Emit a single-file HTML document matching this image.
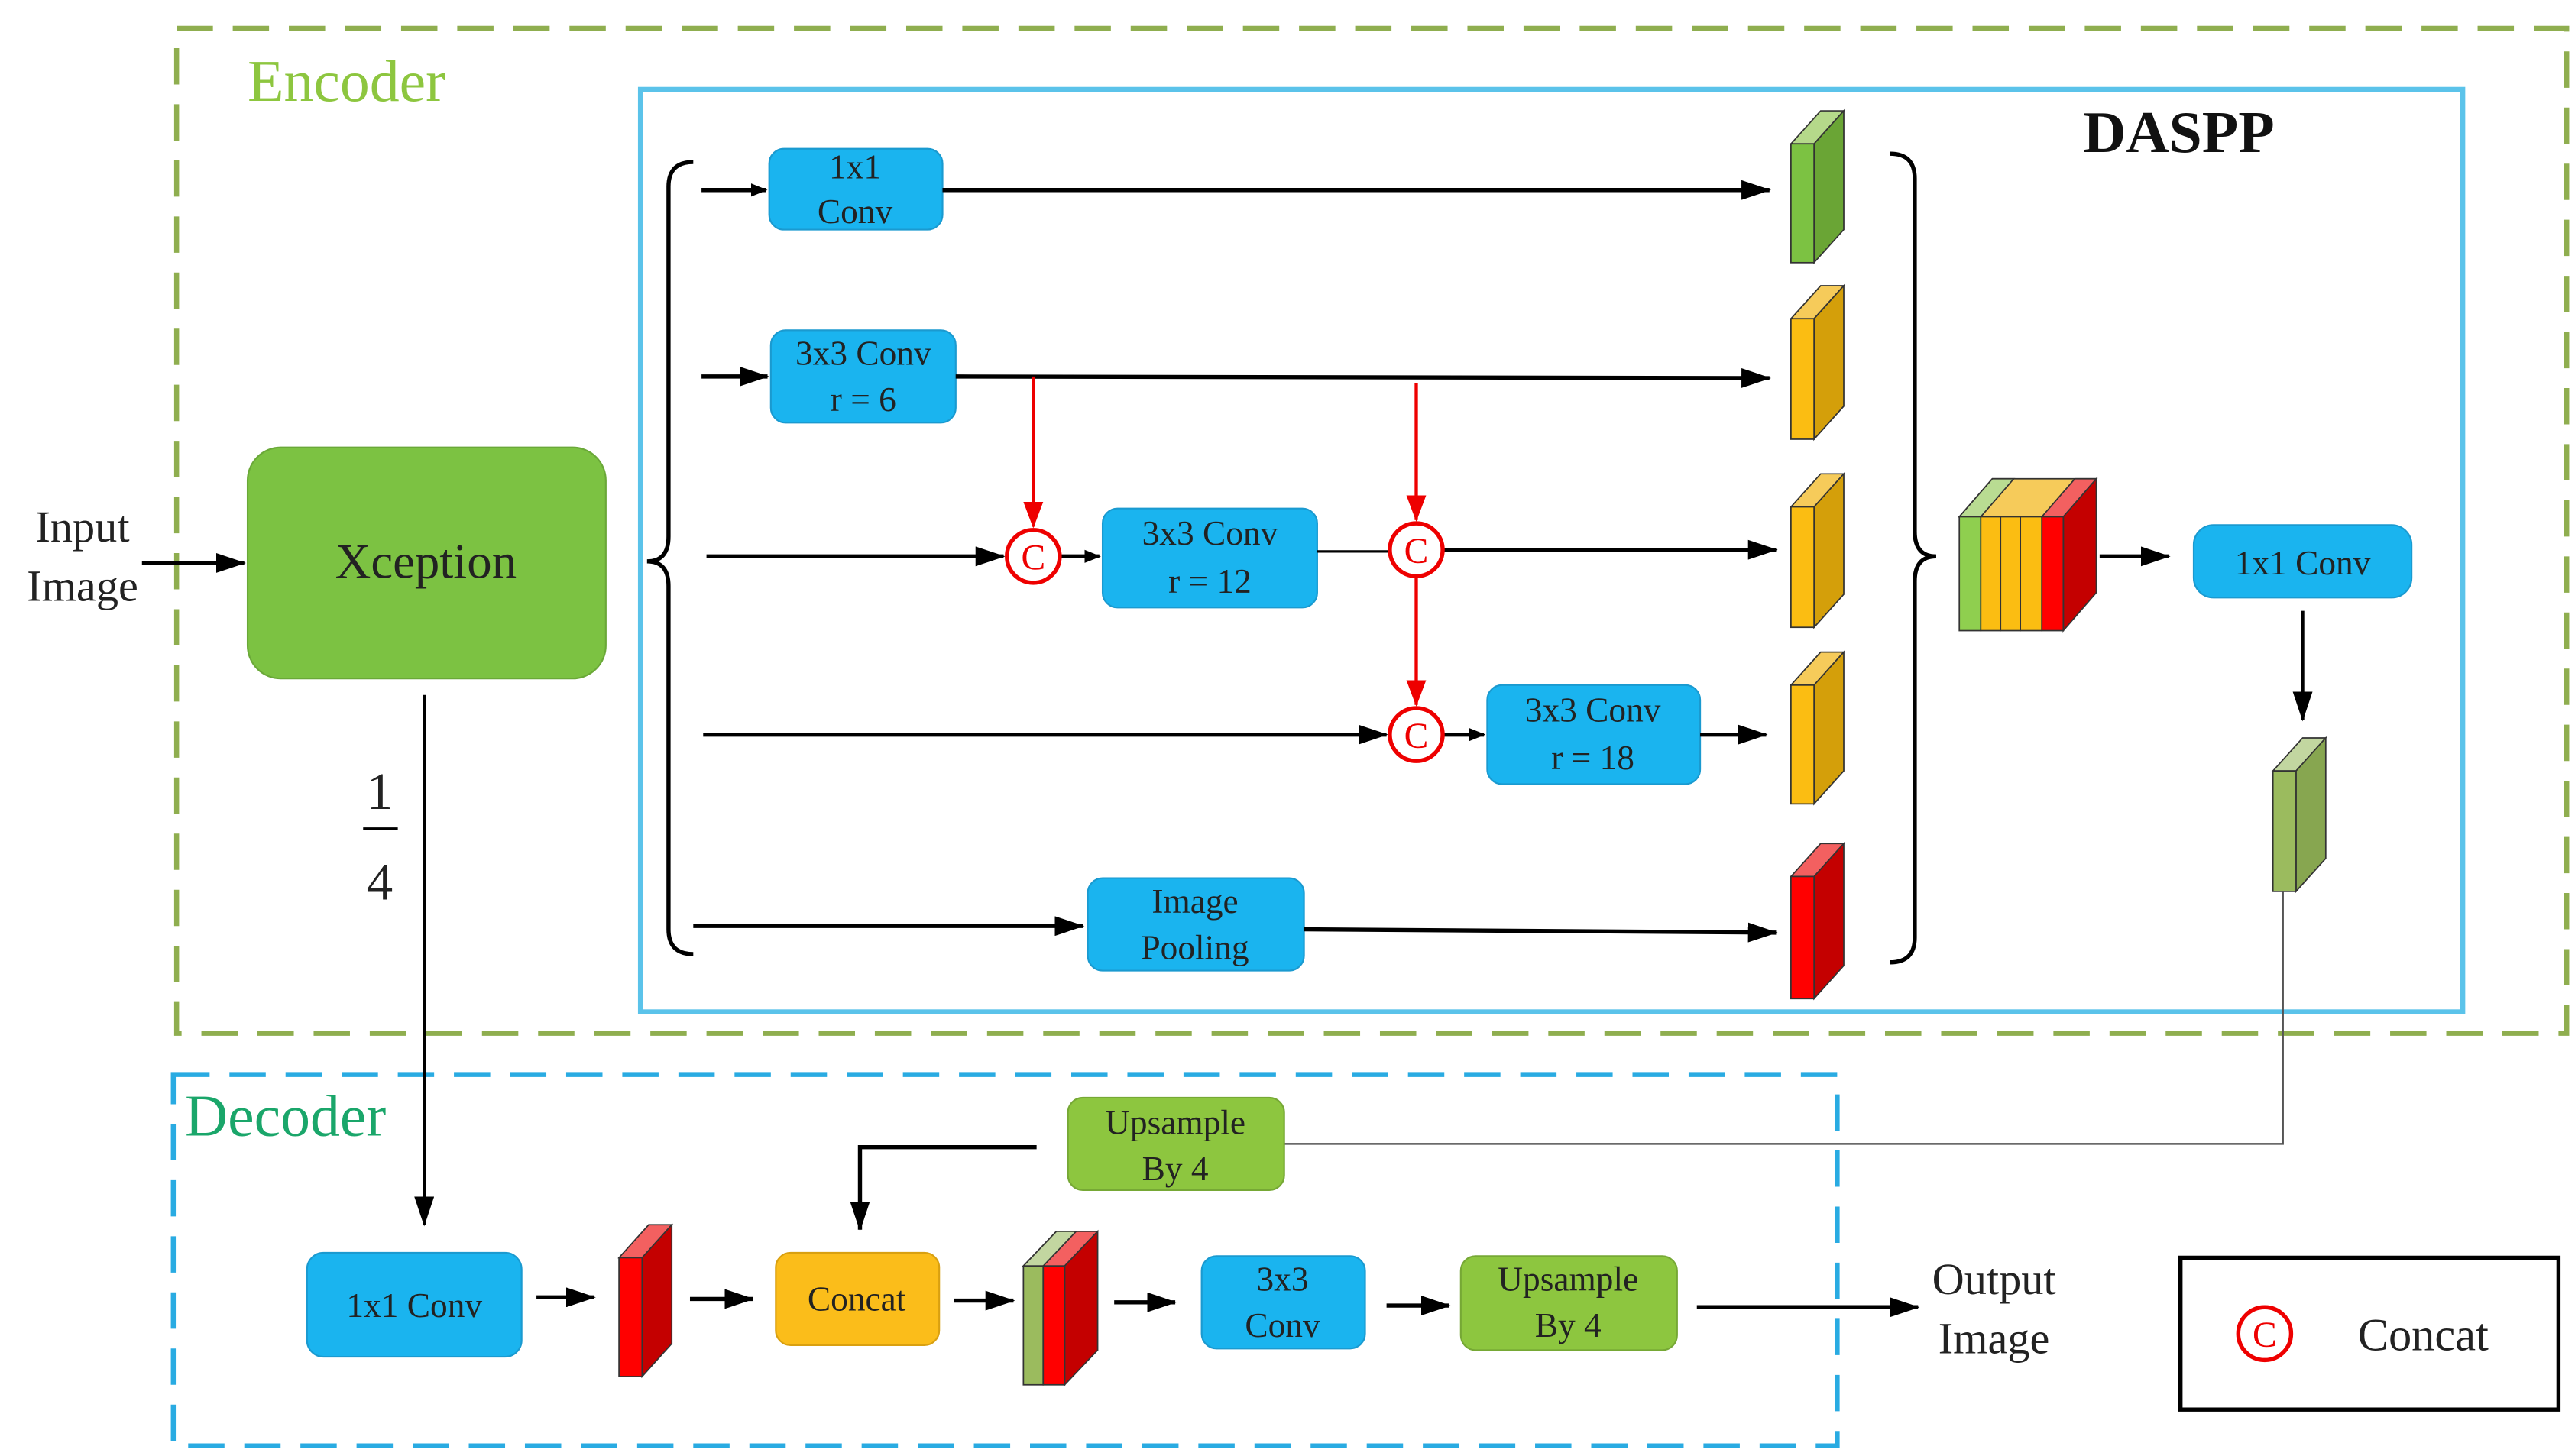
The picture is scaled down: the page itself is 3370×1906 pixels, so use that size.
<!DOCTYPE html>
<html><head><meta charset="utf-8"><style>
html,body{margin:0;padding:0;background:#fff}
svg{display:block}
text{font-family:"Liberation Serif",serif;fill:#222}
</style></head><body>
<svg width="3370" height="1906" viewBox="0 0 1560 882" xmlns="http://www.w3.org/2000/svg">
<defs>
<marker id="a" markerWidth="10" markerHeight="8" refX="9" refY="4" orient="auto" markerUnits="userSpaceOnUse" viewBox="0 0 10 8"><path d="M0,0 L10,4 L0,8 Z" fill="#000"/></marker>
<marker id="b" markerWidth="18" markerHeight="12" refX="17" refY="6" orient="auto" markerUnits="userSpaceOnUse" viewBox="0 0 18 12"><path d="M0,0 L18,6 L0,12 Z" fill="#000"/></marker>
<marker id="r" markerWidth="16" markerHeight="12" refX="15" refY="6" orient="auto" markerUnits="userSpaceOnUse" viewBox="0 0 16 12"><path d="M0,0 L16,6 L0,12 Z" fill="#e00"/></marker>
</defs>

<rect x="107" y="17" width="1448" height="609" fill="none" stroke="#8fae4f" stroke-width="3" stroke-dasharray="22,12"/>
<text x="150" y="61" font-size="36" style="fill:#8dc63f">Encoder</text>
<rect x="388" y="54" width="1104" height="559" fill="none" stroke="#5bc3ea" stroke-width="3"/>
<text x="1262" y="92" font-size="36" font-weight="bold" style="fill:#111">DASPP</text>
<rect x="105" y="651" width="1008" height="225" fill="none" stroke="#29abe2" stroke-width="3" stroke-dasharray="22,12"/>
<text x="112" y="688" font-size="36" style="fill:#1aa66a">Decoder</text>

<text x="50" y="328" font-size="27" text-anchor="middle">Input</text>
<text x="50" y="364" font-size="27" text-anchor="middle">Image</text>
<line x1="86" y1="341" x2="148" y2="341" stroke="#000" stroke-width="2.5" marker-end="url(#b)"/>
<rect x="150" y="271" width="217" height="140" rx="20" fill="#7cc242" stroke="#6aa838"/>
<text x="258" y="350" font-size="30" text-anchor="middle">Xception</text>

<line x1="257" y1="421" x2="257" y2="742" stroke="#000" stroke-width="2" marker-end="url(#b)"/>
<text x="230" y="490" font-size="32" text-anchor="middle">1</text>
<line x1="220" y1="502" x2="241" y2="502" stroke="#000" stroke-width="1.5"/>
<text x="230" y="545" font-size="32" text-anchor="middle">4</text>

<path d="M420,98 Q405,98 405,113 L405,325 Q405,340 392,340 Q405,340 405,355 L405,563 Q405,578 420,578" fill="none" stroke="#000" stroke-width="2.5"/>
<path d="M1145,93 Q1160,93 1160,108 L1160,322 Q1160,337 1173,337 Q1160,337 1160,352 L1160,568 Q1160,583 1145,583" fill="none" stroke="#000" stroke-width="2.5"/>

<g fill="#1ab4ef" stroke="#1a9ad0" stroke-width="1">
<rect x="466" y="90" width="105" height="49" rx="9"/>
<rect x="467" y="200" width="112" height="56" rx="9"/>
<rect x="668" y="308" width="130" height="60" rx="9"/>
<rect x="901" y="415" width="129" height="60" rx="9"/>
<rect x="659" y="532" width="131" height="56" rx="9"/>
<rect x="1329" y="318" width="132" height="44" rx="12"/>
<rect x="186" y="759" width="130" height="63" rx="10"/>
<rect x="728" y="761" width="99" height="56" rx="9"/>
</g>
<g font-size="21" text-anchor="middle">
<text x="518" y="108">1x1</text><text x="518" y="135">Conv</text>
<text x="523" y="221">3x3 Conv</text><text x="523" y="249">r = 6</text>
<text x="733" y="330">3x3 Conv</text><text x="733" y="359">r = 12</text>
<text x="965" y="437">3x3 Conv</text><text x="965" y="466">r = 18</text>
<text x="724" y="553">Image</text><text x="724" y="581">Pooling</text>
<text x="1395" y="348">1x1 Conv</text>
<text x="251" y="798">1x1 Conv</text>
<text x="777" y="782">3x3</text><text x="777" y="810">Conv</text>
</g>

<g stroke="#000" stroke-width="2.5" fill="none">
<line x1="425" y1="115" x2="464" y2="115" marker-end="url(#a)"/>
<line x1="571" y1="115" x2="1072" y2="115" marker-end="url(#b)"/>
<line x1="425" y1="228" x2="465" y2="228" marker-end="url(#b)"/>
<line x1="579" y1="228" x2="1072" y2="229" marker-end="url(#b)"/>
<line x1="428" y1="337" x2="608" y2="337" marker-end="url(#b)"/>
<line x1="642" y1="337" x2="666" y2="337" marker-end="url(#a)"/>
<line x1="798" y1="334" x2="842" y2="334" stroke-width="1.5"/>
<line x1="874" y1="333" x2="1076" y2="333" marker-end="url(#b)"/>
<line x1="426" y1="445" x2="840" y2="445" marker-end="url(#b)"/>
<line x1="874" y1="445" x2="899" y2="445" marker-end="url(#a)"/>
<line x1="1030" y1="445" x2="1070" y2="445" marker-end="url(#b)"/>
<line x1="420" y1="561" x2="656" y2="561" marker-end="url(#b)"/>
<line x1="790" y1="563" x2="1076" y2="565" marker-end="url(#b)"/>
<line x1="1272" y1="337" x2="1314" y2="337" marker-end="url(#b)"/>
<line x1="1395" y1="370" x2="1395" y2="436" stroke-width="2" marker-end="url(#b)"/>
</g>
<g stroke="#e00" stroke-width="2" fill="none">
<line x1="626" y1="228" x2="626" y2="319" marker-end="url(#r)"/>
<line x1="858" y1="232" x2="858" y2="315" marker-end="url(#r)"/>
<line x1="858" y1="350" x2="858" y2="427" marker-end="url(#r)"/>
<circle cx="626" cy="337" r="16" stroke-width="2.5"/>
<circle cx="858" cy="333" r="16" stroke-width="2.5"/>
<circle cx="858" cy="445" r="16" stroke-width="2.5"/>
<circle cx="1372" cy="808" r="16" stroke-width="2.5"/>
</g>
<g font-size="22" text-anchor="middle">
<text x="626" y="345" style="fill:#e00">C</text>
<text x="858" y="341" style="fill:#e00">C</text>
<text x="858" y="453" style="fill:#e00">C</text>
<text x="1372" y="816" style="fill:#e00">C</text>
</g>

<g stroke="#333" stroke-width="0.8">
<polygon points="1085,87 1103,67 1117,67 1099,87" fill="#b5d98a"/><polygon points="1099,87 1117,67 1117,139 1099,159" fill="#6aa535"/><rect x="1085" y="87" width="14" height="72" fill="#7cc242"/>
<polygon points="1085,193 1103,173 1117,173 1099,193" fill="#f6cb5a"/><polygon points="1099,193 1117,173 1117,246 1099,266" fill="#d49f0a"/><rect x="1085" y="193" width="14" height="73" fill="#fbbd12"/>
<polygon points="1085,307 1103,287 1117,287 1099,307" fill="#f6cb5a"/><polygon points="1099,307 1117,287 1117,360 1099,380" fill="#d49f0a"/><rect x="1085" y="307" width="14" height="73" fill="#fbbd12"/>
<polygon points="1085,415 1103,395 1117,395 1099,415" fill="#f6cb5a"/><polygon points="1099,415 1117,395 1117,467 1099,487" fill="#d49f0a"/><rect x="1085" y="415" width="14" height="72" fill="#fbbd12"/>
<polygon points="1085,531 1103,511 1117,511 1099,531" fill="#f36060"/><polygon points="1099,531 1117,511 1117,585 1099,605" fill="#c40000"/><rect x="1085" y="531" width="14" height="74" fill="#f00"/>
<polygon points="1377,467 1395,447 1409,447 1391,467" fill="#c2d6a0"/><polygon points="1391,467 1409,447 1409,520 1391,540" fill="#87a650"/><rect x="1377" y="467" width="14" height="73" fill="#9bbb5e"/>
<polygon points="1187,313 1207,290 1270,290 1250,313" fill="#f6cb5a"/>
<polygon points="1187,313 1207,290 1220,290 1200,313" fill="#b9dc92"/>
<polygon points="1237,313 1257,290 1270,290 1250,313" fill="#f36060"/>
<polygon points="1250,313 1270,290 1270,359 1250,382" fill="#c40000"/>
<rect x="1187" y="313" width="13" height="69" fill="#8fcf4f"/>
<rect x="1200" y="313" width="12" height="69" fill="#fbbd12"/>
<rect x="1212" y="313" width="12" height="69" fill="#fbbd12"/>
<rect x="1224" y="313" width="13" height="69" fill="#fbbd12"/>
<rect x="1237" y="313" width="13" height="69" fill="#f00"/>
<polygon points="375,762 393,742 407,742 389,762" fill="#f36060"/><polygon points="389,762 407,742 407,814 389,834" fill="#c40000"/><rect x="375" y="762" width="14" height="72" fill="#f00"/>
<polygon points="620,767 640,746 665,746 645,767" fill="#f36060"/><polygon points="620,767 640,746 652,746 632,767" fill="#c2d6a0"/>
<polygon points="645,767 665,746 665,818 645,839" fill="#c40000"/>
<rect x="620" y="767" width="12" height="72" fill="#9bbb5e"/><rect x="632" y="767" width="13" height="72" fill="#f00"/>
</g>

<polyline points="1383,540 1383,693 778,693" fill="none" stroke="#555" stroke-width="1.2"/>
<rect x="647" y="665" width="131" height="56" rx="9" fill="#8dc63f" stroke="#76a835"/>
<text x="712" y="687" font-size="21" text-anchor="middle">Upsample</text><text x="712" y="715" font-size="21" text-anchor="middle">By 4</text>
<polyline points="628,695 521,695 521,745" fill="none" stroke="#000" stroke-width="2.5" marker-end="url(#b)"/>

<rect x="470" y="759" width="99" height="56" rx="9" fill="#fbbd1a" stroke="#d9a010"/>
<text x="519" y="794" font-size="21" text-anchor="middle">Concat</text>
<rect x="885" y="761" width="131" height="57" rx="9" fill="#8dc63f" stroke="#76a835"/>
<text x="950" y="782" font-size="21" text-anchor="middle">Upsample</text><text x="950" y="810" font-size="21" text-anchor="middle">By 4</text>
<g stroke="#000" stroke-width="2.5">
<line x1="325" y1="786" x2="360" y2="786" marker-end="url(#b)"/>
<line x1="418" y1="787" x2="456" y2="787" marker-end="url(#b)"/>
<line x1="578" y1="788" x2="614" y2="788" marker-end="url(#b)"/>
<line x1="675" y1="789" x2="712" y2="789" marker-end="url(#b)"/>
<line x1="840" y1="791" x2="878" y2="791" marker-end="url(#b)"/>
<line x1="1028" y1="792" x2="1162" y2="792" marker-end="url(#b)"/>
</g>
<text x="1208" y="784" font-size="27" text-anchor="middle">Output</text>
<text x="1208" y="820" font-size="27" text-anchor="middle">Image</text>

<rect x="1321" y="762" width="229" height="92" fill="none" stroke="#000" stroke-width="2.5"/>
<text x="1468" y="818" font-size="28" text-anchor="middle">Concat</text>
</svg>
</body></html>
